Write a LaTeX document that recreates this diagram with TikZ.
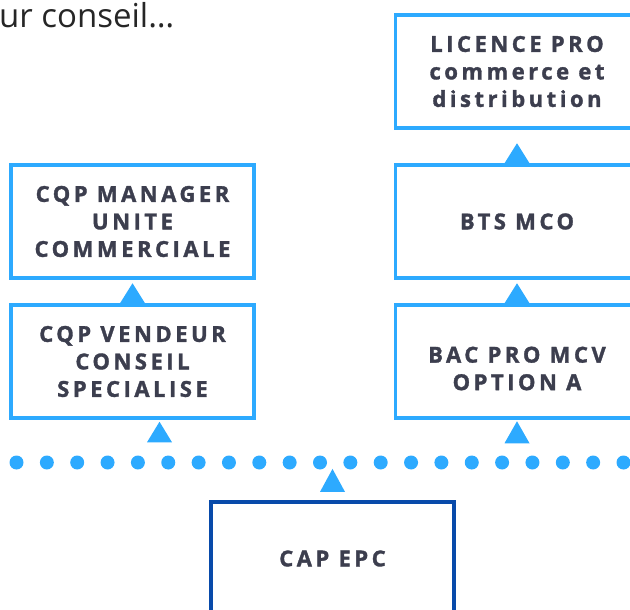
\documentclass[tikz,border=0pt]{standalone}
\usepackage{fontspec}
\setmainfont{Open Sans}
\newfontfamily\boxfont[LetterSpace=16, BoldFeatures={FakeBold=1.5}]{Open Sans}
\usetikzlibrary{calc}
\definecolor{lblue}{RGB}{45,170,255}
\definecolor{dblue}{RGB}{8,74,170}
\definecolor{txt}{RGB}{60,62,78}
\begin{document}
\begin{tikzpicture}[x=1pt,y=-1pt,
  boxtext/.style={font=\boxfont\bfseries\fontsize{22}{27.5}\selectfont, text=txt, align=center},
  box/.style={boxtext, draw=lblue, line width=3.5pt, minimum width=243pt, minimum height=113pt, inner sep=0pt},
  capbox/.style={box, draw=dblue, line width=3.2pt},
  tri/.style={fill=lblue},
  dotline/.style={draw=lblue, line width=14pt, line cap=round, dash pattern=on 0pt off 30.35pt}]
\useasboundingbox (0,0) rectangle (630,610);
\node[anchor=base west, font=\fontsize{33}{38}\selectfont, text=black!85, inner sep=0pt] (title) at (-1,28) {ur conseil\ldots};
\node[box] (lic) at (517,71.5) {LICENCE PRO\\commerce et\\distribution};
\node[box] (bts) at (517,221.5) {BTS MCO};
\node[box] (bac) at (517,361.5) {};
\node[boxtext, inner sep=0pt] (bact) at ($(bac.center)+(0,7)$) {BAC PRO MCV\\OPTION A};
\node[box] (mgr) at (132.5,221.5) {CQP MANAGER\\UNITE\\COMMERCIALE};
\node[box] (ven) at (132.5,361.5) {CQP VENDEUR\\CONSEIL\\SPECIALISE};
\node[capbox] (cap) at (332.5,558.5) {CAP EPC};
\coordinate (dl) at (16.5,462.5);
\coordinate (dr) at (660,462.5);
\draw[dotline] (dl) -- (dr);
% triangles
\fill[tri] (bts.north) ++(-12.5,0) -- ++(25,0) -- ++(-12.5,-20) -- cycle;
\fill[tri] (bac.north) ++(-12.5,0) -- ++(25,0) -- ++(-12.5,-20) -- cycle;
\fill[tri] (ven.north) ++(-12.5,0) -- ++(25,0) -- ++(-12.5,-20) -- cycle;
\fill[tri] ($(ven.south)+(14.5,22.5)$) -- ++(25,0) -- ++(-12.5,-20.5) -- cycle;
\fill[tri] ($(bac.south)+(-12.5,23.5)$) -- ++(25,0) -- ++(-12.5,-22) -- cycle;
\fill[tri] ($(cap.north)+(-12.5,-8.5)$) -- ++(25,0) -- ++(-12.5,-23) -- cycle;
\end{tikzpicture}
\end{document}
